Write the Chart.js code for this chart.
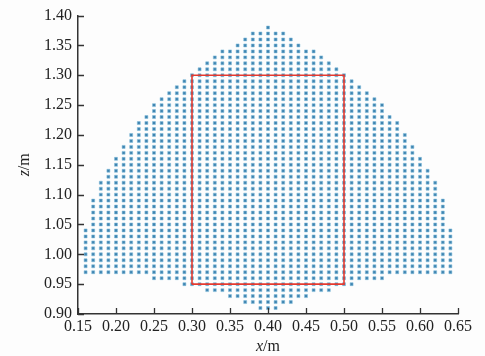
<!DOCTYPE html>
<html><head><meta charset="utf-8">
<script src="https://cdn.jsdelivr.net/npm/chart.js@4"></script>
<style>html,body{margin:0;padding:0;background:#fdfdfd}#wrap{width:485px;height:356px}</style>
</head><body><div id="wrap"><canvas id="c" width="485" height="356"></canvas></div>
<script>
// Workspace grid (0.01 m spacing): for each column x, lowest and highest z point
const columnX = [0.16,0.17,0.18,0.19,0.20,0.21,0.22,0.23,0.24,0.25,0.26,0.27,0.28,0.29,0.30,0.31,0.32,0.33,0.34,0.35,0.36,0.37,0.38,0.39,0.40,
                 0.41,0.42,0.43,0.44,0.45,0.46,0.47,0.48,0.49,0.50,0.51,0.52,0.53,0.54,0.55,0.56,0.57,0.58,0.59,0.60,0.61,0.62,0.63,0.64];
const columnTopZ = [1.04,1.09,1.12,1.14,1.16,1.18,1.20,1.22,1.23,1.25,1.26,1.27,1.28,1.29,1.30,1.31,1.32,1.33,1.34,1.34,1.35,1.36,1.37,1.37,1.38,
                    1.37,1.37,1.36,1.35,1.34,1.34,1.33,1.32,1.31,1.30,1.29,1.28,1.27,1.26,1.25,1.23,1.22,1.20,1.18,1.16,1.14,1.12,1.09,1.04];
const columnBottomZ = [0.97,0.97,0.97,0.97,0.97,0.97,0.97,0.97,0.97,0.96,0.96,0.96,0.96,0.95,0.95,0.95,0.94,0.94,0.94,0.93,0.93,0.92,0.92,0.91,0.91,
                       0.91,0.92,0.92,0.93,0.93,0.94,0.94,0.94,0.95,0.95,0.95,0.96,0.96,0.96,0.96,0.97,0.97,0.97,0.97,0.97,0.97,0.97,0.97,0.97];
// Red rectangle (selected region)
const rectX = [0.30, 0.30, 0.50, 0.50, 0.30];
const rectZ = [0.95, 1.30, 1.30, 0.95, 0.95];
// Tick labels
const xTicks = [0.15,0.20,0.25,0.30,0.35,0.40,0.45,0.50,0.55,0.60,0.65];
const zTicks = [0.90,0.95,1.00,1.05,1.10,1.15,1.20,1.25,1.30,1.35,1.40];

const gridPoints = [];
columnX.forEach((x, i) => {
  const lo = Math.round(columnBottomZ[i] * 100), hi = Math.round(columnTopZ[i] * 100);
  for (let k = lo; k <= hi; k++) gridPoints.push({x: x, y: k / 100});
});
const rectPoints = rectX.map((x, i) => ({x: x, y: rectZ[i]}));

const FONT = 'Liberation Serif';

const bgPlugin = {
  id: 'bg',
  beforeDraw(chart) {
    const ctx = chart.ctx;
    ctx.save(); ctx.fillStyle = '#fdfdfd'; ctx.fillRect(0, 0, chart.width, chart.height); ctx.restore();
  }
};

const innerTicksAndTitles = {
  id: 'innerTicks',
  afterDraw(chart) {
    const ctx = chart.ctx, xs = chart.scales.x, ys = chart.scales.y, a = chart.chartArea;
    ctx.save();
    ctx.strokeStyle = '#333'; ctx.lineWidth = 1.3;
    ctx.beginPath();
    xTicks.forEach(v => { const p = Math.round(xs.getPixelForValue(v)) + 0.5; ctx.moveTo(p, a.bottom); ctx.lineTo(p, a.bottom - 6); });
    zTicks.forEach(v => { const p = Math.round(ys.getPixelForValue(v)) + 0.5; ctx.moveTo(a.left, p); ctx.lineTo(a.left + 6, p); });
    ctx.stroke();
    // axis titles with italic variable
    ctx.fillStyle = '#222';
    ctx.textBaseline = 'middle';
    const drawTitle = (v, rest, cx, cy, rot) => {
      ctx.save();
      ctx.translate(cx, cy); ctx.rotate(rot);
      ctx.font = 'italic 16px "' + FONT + '"';
      const w1 = ctx.measureText(v).width;
      ctx.font = '16px "' + FONT + '"';
      const w2 = ctx.measureText(rest).width;
      const start = -(w1 + w2) / 2;
      ctx.textAlign = 'left';
      ctx.font = 'italic 16px "' + FONT + '"';
      ctx.fillText(v, start, 0);
      ctx.font = '16px "' + FONT + '"';
      ctx.fillText(rest, start + w1, 0);
      ctx.restore();
    };
    drawTitle('x', '/m', (a.left + a.right) / 2, 346.5, 0);
    drawTitle('z', '/m', 25, (a.top + a.bottom) / 2, -Math.PI / 2);
    ctx.restore();
  }
};

new Chart(document.getElementById('c'), {
  type: 'scatter',
  data: {
    datasets: [
      {
        label: 'grid',
        data: gridPoints,
        pointStyle: 'rect',
        pointRadius: 2.1,
        backgroundColor: '#3f84b0',
        borderColor: 'rgba(130,190,220,0.55)',
        borderWidth: 1,
        order: 2
      },
      {
        label: 'region',
        type: 'line',
        data: rectPoints,
        borderColor: '#e53a2f',
        borderWidth: 1.6,
        pointRadius: 0,
        fill: false,
        tension: 0,
        order: 1
      }
    ]
  },
  options: {
    responsive: false,
    animation: false,
    devicePixelRatio: 1,
    layout: { padding: { top: 15, right: 27, left: 0, bottom: 0 } },
    plugins: { legend: { display: false }, tooltip: { enabled: false } },
    scales: {
      x: {
        type: 'linear', min: 0.15, max: 0.65,
        afterBuildTicks: s => { s.ticks = xTicks.map(v => ({ value: v })); },
        afterFit: s => { s.height = 42; },
        ticks: { callback: v => Number(v).toFixed(2), font: { family: FONT, size: 16 }, color: '#222', padding: 3, maxRotation: 0, autoSkip: false },
        grid: { display: false, drawTicks: false },
        border: { display: true, color: '#333', width: 1.5 }
      },
      y: {
        type: 'linear', min: 0.90, max: 1.40,
        afterBuildTicks: s => { s.ticks = zTicks.map(v => ({ value: v })); },
        afterFit: s => { s.width = 78; },
        ticks: { callback: v => Number(v).toFixed(2), font: { family: FONT, size: 16 }, color: '#222', padding: 6, autoSkip: false },
        grid: { display: false, drawTicks: false },
        border: { display: true, color: '#333', width: 1.5 }
      }
    }
  },
  plugins: [bgPlugin, innerTicksAndTitles]
});
</script>
</body></html>
